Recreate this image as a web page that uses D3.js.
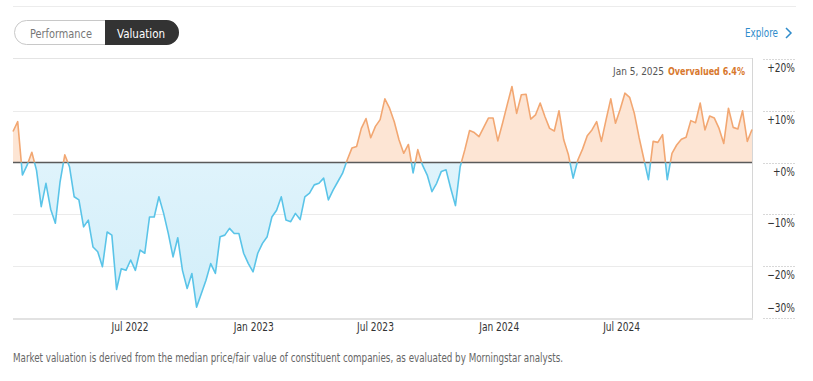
<!DOCTYPE html>
<html>
<head>
<meta charset="utf-8">
<script src="https://cdn.jsdelivr.net/npm/d3@7"></script>
<style>
  body { margin: 0; background: #fff; }
  svg { display: block; font-family: "Liberation Sans Narrow", "Arial Narrow", "DejaVu Sans Condensed", sans-serif; }
</style>
</head>
<body>
<svg id="chart" width="813" height="381"></svg>
<script>
// weekly readings, first week ends 2022-01-02, last one 2025-01-05
var startDate = "2022-01-02";
var valuation = [
  6.0, 7.9, -2.4, -0.5, 2.0, -1.5, -8.5, -4.0, -9.0, -11.7,
  -3.7, 1.5, -0.8, -6.6, -7.2, -12.4, -11.1, -16.3, -17.2, -20.1,
  -13.4, -14.0, -24.5, -20.5, -20.8, -18.8, -20.8, -16.9, -17.5, -10.5,
  -10.5, -6.6, -9.8, -13.7, -18.2, -14.5, -20.8, -24.3, -21.4, -27.9,
  -25.3, -22.7, -19.5, -21.4, -14.3, -14.0, -12.7, -13.7, -13.7, -17.5,
  -19.5, -21.1, -17.5, -15.6, -14.3, -10.5, -9.2, -6.6, -11.1, -11.4,
  -9.8, -11.0, -6.6, -5.9, -4.3, -4.0, -3.0, -7.2, -5.3, -3.7,
  -2.1, 0.5, 2.8, 3.1, 6.6, 8.5, 4.8, 7.0, 8.3, 12.3,
  10.5, 7.9, 4.4, 1.8, 3.5, -2.0, 2.5, -0.5, -2.4, -5.6,
  -4.0, -1.7, -1.4, -5.0, -8.3, -0.8, 2.5, 6.2, 5.8, 5.0,
  6.8, 8.6, 8.6, 4.2, 7.6, 11.2, 14.7, 9.5, 13.1, 13.2,
  8.4, 9.2, 11.5, 8.9, 6.6, 6.1, 10.0, 4.4, 1.5, -3.0,
  0.5, 2.6, 5.2, 6.3, 7.9, 4.1, 8.3, 12.3, 7.6, 10.3,
  13.4, 12.6, 9.5, 4.9, 0.8, -3.3, 4.1, 3.9, 5.4, -3.3,
  1.8, 3.4, 4.5, 4.9, 8.1, 7.7, 11.5, 6.3, 9.0, 8.6,
  6.6, 3.7, 10.5, 6.8, 6.5, 10.0, 4.1, 6.4
];
var yTicks = [20, 10, 0, -10, -20, -30];
var xTicks = ["2022-07-01", "2023-01-01", "2023-07-01", "2024-01-01", "2024-07-01"];
var lastLabel = "Jan 5, 2025";
var lastStatus = "Overvalued 6.4%";
var footnote = "Market valuation is derived from the median price/fair value of constituent companies, as evaluated by Morningstar analysts.";

var parse = d3.utcParse("%Y-%m-%d");
var t0 = parse(startDate);
var data = valuation.map(function(v, i) {
  return { date: d3.utcWeek.offset(t0, i), value: v };
});

var svg = d3.select("#chart"),
    plotLeft = 13, plotRight = 752, plotTop = 59, plotBottom = 318;

// squeeze text so it looks like the condensed face of the original
function narrow(sel, factor, width) {
  sel.each(function() {
    var w = width || this.getComputedTextLength() * factor;
    d3.select(this).attr("textLength", w).attr("lengthAdjust", "spacingAndGlyphs");
  });
}

var x = d3.scaleUtc()
    .domain([data[0].date, data[data.length - 1].date])
    .range([plotLeft, plotRight]);
var y = d3.scaleLinear().domain([-30, 20]).range([plotBottom, plotTop]);
var y0 = y(0);

// top rule
svg.append("line").attr("x1", 13).attr("x2", 796).attr("y1", 6.5).attr("y2", 6.5)
  .attr("stroke", "#ececec");

// toggle pill
var pill = svg.append("g");
pill.append("rect").attr("x", 14.5).attr("y", 20.5).attr("width", 164).attr("height", 24)
  .attr("rx", 12).attr("fill", "#fff").attr("stroke", "#c8c8c8");
pill.append("path")
  .attr("d", "M105,20 H166.5 A12.5,12.5 0 0 1 166.5,45 H105 Z")
  .attr("fill", "#333");
pill.append("text").attr("x", 30).attr("y", 37.5)
  .attr("font-size", 13).attr("fill", "#777").text("Performance")
  .call(narrow, 1, 62);
pill.append("text").attr("x", 117).attr("y", 37.5)
  .attr("font-size", 13).attr("fill", "#fff").text("Valuation")
  .call(narrow, 1, 48);

svg.append("text").attr("x", 745).attr("y", 37)
  .attr("font-size", 12.5).attr("fill", "#2f8ccb").text("Explore")
  .call(narrow, 1, 33);
svg.append("path").attr("d", "M786,28 L791,33 L786,38")
  .attr("fill", "none").attr("stroke", "#2f8ccb").attr("stroke-width", 1.5);

// grid + frame
svg.append("line").attr("x1", plotLeft).attr("x2", plotRight).attr("y1", 58.5).attr("y2", 58.5)
  .attr("stroke", "#e4e4e4");
svg.selectAll(".grid").data(yTicks.filter(function(d) { return d !== 0 && d !== -30 && d !== 20; }))
  .enter().append("line")
  .attr("x1", plotLeft).attr("x2", plotRight)
  .attr("y1", function(d) { return Math.round(y(d)) + 0.5; })
  .attr("y2", function(d) { return Math.round(y(d)) + 0.5; })
  .attr("stroke", "#ebebeb");
svg.append("line").attr("x1", plotRight + 0.5).attr("x2", plotRight + 0.5).attr("y1", 58).attr("y2", plotBottom)
  .attr("stroke", "#d6d6d6");
svg.append("line").attr("x1", plotLeft).attr("x2", plotRight + 1).attr("y1", plotBottom + 1).attr("y2", plotBottom + 1)
  .attr("stroke", "#e2e2e2").attr("stroke-width", 2);

// clip regions above / below zero
var defs = svg.append("defs");
defs.append("clipPath").attr("id", "above").append("rect")
  .attr("x", plotLeft - 2).attr("y", 0).attr("width", plotRight - plotLeft + 4).attr("height", y0);
defs.append("clipPath").attr("id", "below").append("rect")
  .attr("x", plotLeft - 2).attr("y", y0).attr("width", plotRight - plotLeft + 4).attr("height", 381 - y0);
var grad = defs.append("linearGradient").attr("id", "blueFill")
  .attr("x1", 0).attr("x2", 0).attr("y1", 0).attr("y2", 1);
grad.append("stop").attr("offset", "0%").attr("stop-color", "#e6f6fd");
grad.append("stop").attr("offset", "100%").attr("stop-color", "#d2eef9");

var area = d3.area()
  .x(function(d) { return x(d.date); })
  .y0(y0)
  .y1(function(d) { return y(d.value); });
var line = d3.line()
  .x(function(d) { return x(d.date); })
  .y(function(d) { return y(d.value); });

svg.append("path").datum(data).attr("d", area).attr("clip-path", "url(#above)")
  .attr("fill", "#fde5d4");
svg.append("path").datum(data).attr("d", area).attr("clip-path", "url(#below)")
  .attr("fill", "url(#blueFill)");

svg.append("line").attr("x1", plotLeft).attr("x2", plotRight).attr("y1", y0).attr("y2", y0)
  .attr("stroke", "#5a5a5a").attr("stroke-width", 1.5);

svg.append("path").datum(data).attr("d", line).attr("clip-path", "url(#above)")
  .attr("fill", "none").attr("stroke", "#f2a772").attr("stroke-width", 1.6)
  .attr("stroke-linejoin", "round");
svg.append("path").datum(data).attr("d", line).attr("clip-path", "url(#below)")
  .attr("fill", "none").attr("stroke", "#5ac4e8").attr("stroke-width", 1.6)
  .attr("stroke-linejoin", "round");

// right axis
var fmtPct = function(d) {
  if (d > 0) return "+" + d + "%";
  if (d === 0) return "+0%";
  return "\u2212" + Math.abs(d) + "%";
};
var ra = svg.selectAll(".rtick").data(yTicks).enter().append("g");
ra.append("line").attr("x1", 763).attr("x2", 795)
  .attr("y1", function(d) { return Math.round(y(d)) + 0.5; })
  .attr("y2", function(d) { return Math.round(y(d)) + 0.5; })
  .attr("stroke", "#d8d8d8").attr("stroke-dasharray", "2,1");
ra.append("text").attr("x", 795).attr("text-anchor", "end")
  .attr("y", function(d) { return d === -30 ? y(d) - 6 : y(d) + 13; })
  .attr("font-size", 12).attr("fill", "#333").text(fmtPct)
  .call(narrow, 0.84);

// x axis labels
svg.selectAll(".xlab").data(xTicks).enter().append("text")
  .attr("x", function(d) { return x(parse(d)) - 4; })
  .attr("y", 331).attr("text-anchor", "middle")
  .attr("font-size", 12).attr("fill", "#333")
  .text(function(d) { return d3.utcFormat("%b %Y")(parse(d)); })
  .call(narrow, 0.84);

// last value label
svg.append("text").attr("x", 613).attr("y", 75)
  .attr("font-size", 11).attr("fill", "#555").text(lastLabel)
  .call(narrow, 1, 51);
svg.append("text").attr("x", 668).attr("y", 75)
  .attr("font-size", 11).attr("fill", "#d8782e").attr("font-weight", "bold").text(lastStatus)
  .call(narrow, 1, 77);

svg.append("text").attr("x", 13).attr("y", 362).attr("font-size", 11.5)
  .attr("fill", "#666").text(footnote)
  .call(narrow, 1, 550);
</script>
</body>
</html>
